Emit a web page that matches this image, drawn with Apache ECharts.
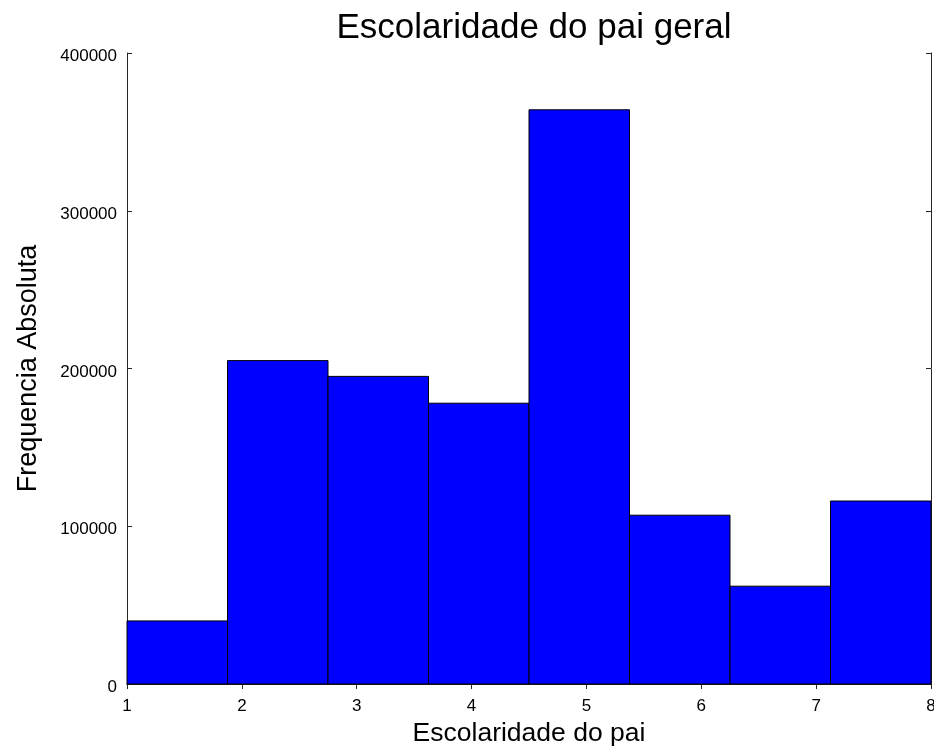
<!DOCTYPE html>
<html>
<head>
<meta charset="utf-8">
<script src="https://cdn.jsdelivr.net/npm/echarts@6/dist/echarts.min.js"></script>
<style>
html,body{margin:0;padding:0;background:#fff;}
#chart{width:934px;height:748px;}
</style>
</head>
<body>
<div id="chart"></div>
<script>
// Histogram bin edges (x) and absolute frequencies
const binEdges = [1, 1.875, 2.75, 3.625, 4.5, 5.375, 6.25, 7.125, 8];
const frequencies = [40000, 205000, 195000, 178000, 364000, 107000, 62000, 116000];
const xTicks = [1, 2, 3, 4, 5, 6, 7, 8];
const yTicks = [0, 100000, 200000, 300000, 400000];

const FONT = '"Liberation Sans", Arial, sans-serif';

const barData = frequencies.map((v, i) => [binEdges[i], binEdges[i + 1], v]);

const chart = echarts.init(document.getElementById('chart'), null, {renderer: 'canvas'});

const axisLine = {show: true, lineStyle: {color: '#262626', width: 1}};
const axisTick = {show: true, inside: true, length: 5, lineStyle: {color: '#262626', width: 1}};

chart.setOption({
  backgroundColor: '#fff',
  animation: false,
  title: {
    text: 'Escolaridade do pai geral',
    left: 529, top: 6, textAlign: 'center',
    textStyle: {fontFamily: FONT, fontSize: 35, fontWeight: 'normal', color: '#000'}
  },
  grid: {left: 127, right: 3, top: 53, bottom: 64, containLabel: false, outerBoundsMode: 'none'},
  xAxis: [{
    type: 'value', min: xTicks[0], max: xTicks[xTicks.length - 1], interval: 1,
    position: 'bottom',
    name: 'Escolaridade do pai', nameLocation: 'middle', nameGap: 34,
    nameTextStyle: {fontFamily: FONT, fontSize: 26.5, color: '#000'},
    axisLine: axisLine, axisTick: axisTick,
    axisLabel: {fontFamily: FONT, fontSize: 17, color: '#000', margin: 14,
      formatter: v => xTicks.includes(v) ? String(v) : ''},
    splitLine: {show: false}
  }, {
    type: 'value', min: xTicks[0], max: xTicks[xTicks.length - 1], interval: 1,
    position: 'top',
    axisLine: axisLine, axisTick: axisTick,
    axisLabel: {show: false}, splitLine: {show: false}
  }],
  yAxis: [{
    type: 'value', min: yTicks[0], max: yTicks[yTicks.length - 1], interval: 100000,
    position: 'left',
    name: 'Frequencia Absoluta', nameLocation: 'middle', nameGap: 85, nameRotate: 90,
    nameTextStyle: {fontFamily: FONT, fontSize: 27, color: '#000'},
    axisLine: axisLine, axisTick: axisTick,
    axisLabel: {fontFamily: FONT, fontSize: 17, color: '#000', margin: 10,
      formatter: v => '{v|' + v + '}',
      rich: {v: {fontFamily: FONT, fontSize: 17, color: '#000', padding: [7, 0, 0, 0]}}},
    splitLine: {show: false}
  }, {
    type: 'value', min: yTicks[0], max: yTicks[yTicks.length - 1], interval: 100000,
    position: 'right',
    axisLine: axisLine, axisTick: axisTick,
    axisLabel: {show: false}, splitLine: {show: false}
  }],
  series: [{
    type: 'custom',
    xAxisIndex: 0, yAxisIndex: 0,
    data: barData,
    encode: {x: [0, 1], y: 2},
    renderItem: function (params, api) {
      const p0 = api.coord([api.value(0), 0]);
      const p1 = api.coord([api.value(1), api.value(2)]);
      return {
        type: 'rect',
        shape: {x: p0[0], y: p1[1], width: p1[0] - p0[0], height: p0[1] - p1[1]},
        style: {fill: '#0000ff', stroke: '#000', lineWidth: 1}
      };
    },
    z: 1
  }]
});
</script>
</body>
</html>
